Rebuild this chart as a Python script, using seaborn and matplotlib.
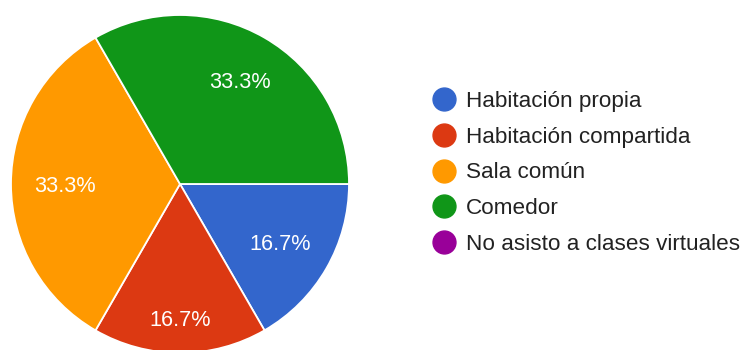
import matplotlib
matplotlib.use("Agg")
import matplotlib.pyplot as plt
from matplotlib.lines import Line2D
from matplotlib.transforms import offset_copy
import numpy as np
import seaborn as sns

categories = ["Habitación propia", "Habitación compartida", "Sala común",
              "Comedor", "No asisto a clases virtuales"]
responses = [1, 1, 2, 2, 0]
colors = ["#3366cc", "#dc3912", "#ff9900", "#109618", "#990099"]

sns.set_theme(style="white")
plt.rcParams["font.family"] = ["Liberation Sans", "DejaVu Sans"]

W, H = 743, 350
fig = plt.figure(figsize=(W / 100, H / 100), dpi=100)

# pie area: centre (180, 184) px from top-left, radius 169 px
cx, cy, r = 180, 184, 169
ax = fig.add_axes([(cx - r) / W, (H - cy - r) / H, 2 * r / W, 2 * r / H])

shown = [(c, v, col) for c, v, col in zip(categories, responses, colors) if v > 0]
vals = [v for _, v, _ in shown]
cols = [col for _, _, col in shown]
total = sum(vals)

wedges, _ = ax.pie(vals, colors=cols, startangle=0, counterclock=False,
                   radius=1.0,
                   wedgeprops=dict(edgecolor="white", linewidth=1.3))

# percentage labels along each wedge's bisector, vertically centred on digits
label_r = [0.686, 0.793, 0.683, 0.71]
lab_tr = offset_copy(ax.transData, fig=fig, y=-7.7, units="dots")
for w, v, lr in zip(wedges, vals, label_r):
    ang = np.deg2rad((w.theta1 + w.theta2) / 2)
    ax.text(lr * np.cos(ang), lr * np.sin(ang), f"{100 * v / total:.1f}%",
            ha="center", va="baseline", color="white", fontsize=15.6,
            transform=lab_tr)

ax.set_xlim(-1, 1)
ax.set_ylim(-1, 1)
ax.set_aspect("equal")
ax.axis("off")

handles = [Line2D([0], [0], marker="o", linestyle="none", markersize=16.5,
                  markerfacecolor=c, markeredgecolor=c) for c in colors]
fig.legend(handles, categories, loc="center left",
           bbox_to_anchor=(433 / W, 1 - 173 / H), frameon=False,
           fontsize=16.2, labelspacing=0.65, handletextpad=0.46,
           handlelength=1.0, borderpad=0, borderaxespad=0,
           labelcolor="#222222")

fig.savefig("out.png", dpi=100, facecolor="white")
